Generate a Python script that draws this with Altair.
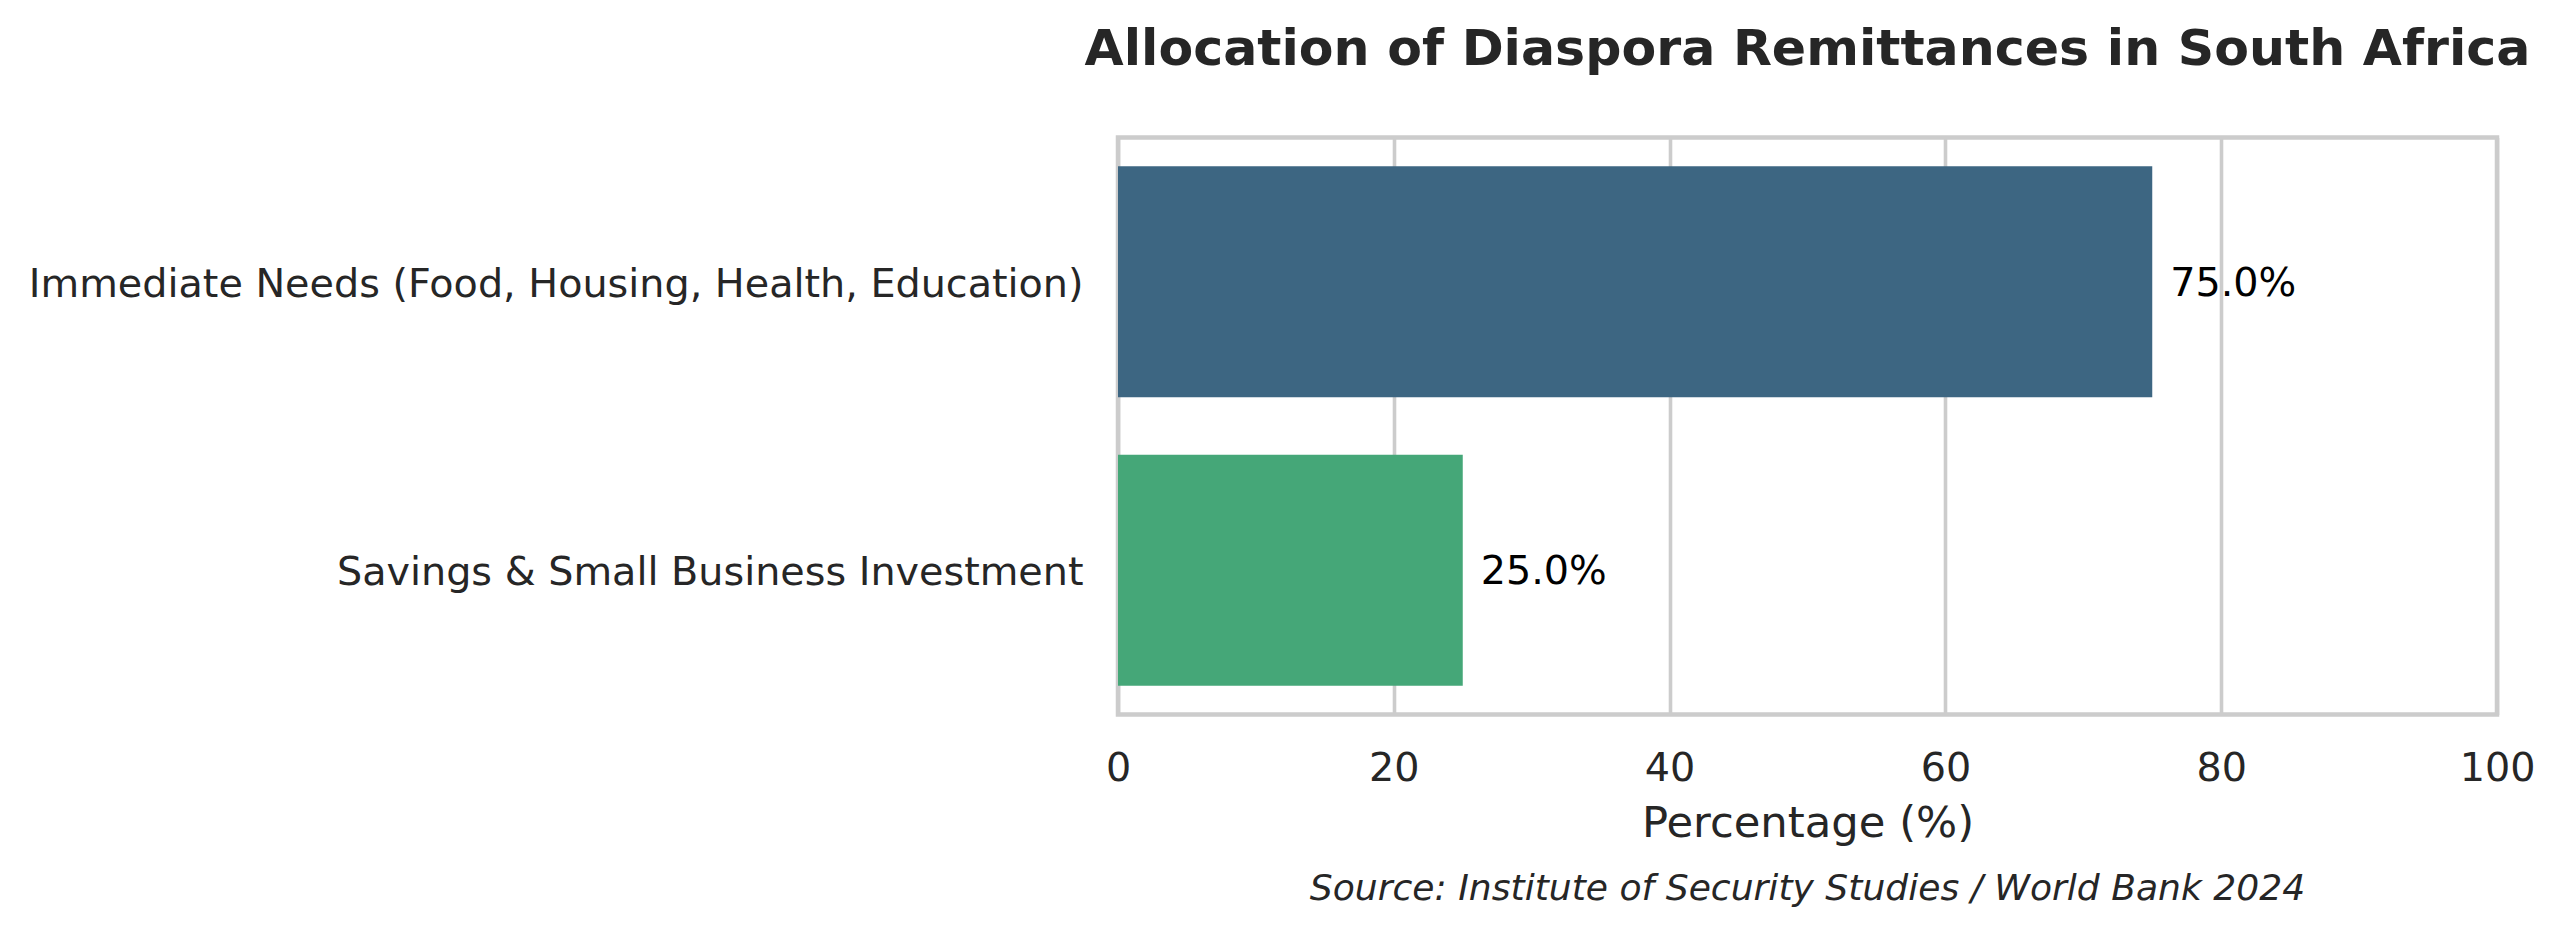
import altair as alt
import pandas as pd

categories = [
    "Immediate Needs (Food, Housing, Health, Education)",
    "Savings & Small Business Investment",
]
values = [75.0, 25.0]
colors = ["#3d6682", "#45a778"]
x_ticks = [0, 20, 40, 60, 80, 100]

title_text = "Allocation of Diaspora Remittances in South Africa"
x_title = "Percentage (%)"
source_text = "Source: Institute of Security Studies / World Bank 2024"

W, H = 1379, 577
TOP = 137.5
FONT = "DejaVu Sans"
TXT = "#262626"

df = pd.DataFrame({
    "category": categories,
    "value": values,
    "label": [f"{v:.1f}%" for v in values],
})
src = pd.DataFrame({"text": [source_text]})
ttl = pd.DataFrame({"text": [title_text]})

y_enc = alt.Y(
    "category:N",
    sort=categories,
    title=None,
    scale=alt.Scale(paddingInner=0.2, paddingOuter=0.1),
    axis=alt.Axis(
        labelFont=FONT, labelFontSize=39.7, labelColor=TXT,
        labelPadding=35, labelLimit=3000, labelOffset=3,
        ticks=False, tickSize=0, domain=False, grid=False,
    ),
)
x_enc = alt.X(
    "value:Q",
    title=x_title,
    scale=alt.Scale(domain=[0, 100], nice=False),
    axis=alt.Axis(
        values=x_ticks, format="d",
        labelFont=FONT, labelFontSize=39.7, labelColor=TXT,
        labelBaseline="alphabetic", labelPadding=65.5, labelFlush=False,
        ticks=False, tickSize=0, domain=False,
        grid=True, gridColor="#cccccc", gridWidth=3.6,
        titleFont=FONT, titleFontSize=43.3, titleColor=TXT,
        titleFontWeight="normal", titleBaseline="alphabetic",
        titleY=122,
    ),
)

bars = alt.Chart(df).mark_bar().encode(
    y=y_enc,
    x=x_enc,
    color=alt.Color("category:N", scale=alt.Scale(domain=categories, range=colors), legend=None),
)

labels = alt.Chart(df).mark_text(
    align="left", baseline="middle", dx=18, dy=2, font=FONT, fontSize=39.7, color="black",
).encode(
    y=alt.Y("category:N", sort=categories),
    x=alt.X("value:Q"),
    text="label:N",
)

source = alt.Chart(src).mark_text(
    align="center", baseline="alphabetic", font=FONT, fontSize=36.1,
    fontStyle="italic", color=TXT,
).encode(
    x=alt.value(W / 2),
    y=alt.value(900 - TOP),
    text="text:N",
)

title = alt.Chart(ttl).mark_text(
    align="center", baseline="alphabetic", font=FONT, fontSize=50.6,
    fontWeight="bold", color=TXT,
).encode(
    x=alt.value(W / 2),
    y=alt.value(65 - TOP),
    text="text:N",
)

chart = alt.layer(bars, labels, source, title).properties(
    width=W,
    height=H,
    autosize=alt.AutoSizeParams(type="none"),
    padding={"left": 1118, "top": TOP, "right": 63, "bottom": 932 - TOP - H},
    background="white",
).configure_view(
    stroke="#cccccc", strokeWidth=4.5,
)

chart.save("out.html", embed_options={"renderer": "svg", "actions": False})
